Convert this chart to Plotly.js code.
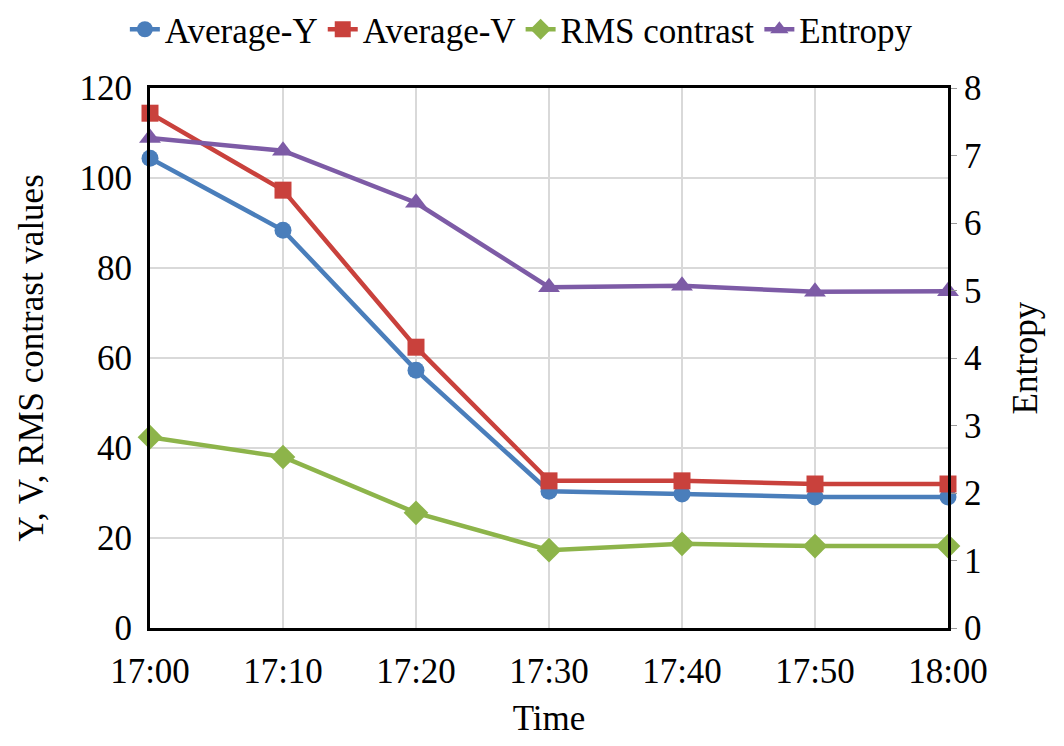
<!DOCTYPE html>
<html><head><meta charset="utf-8">
<script src="https://cdn.plot.ly/plotly-3.0.1.min.js"></script>
<style>html,body{margin:0;padding:0;background:#fff}</style>
</head><body>
<div id="chart" style="width:1064px;height:746px"></div>
<script>
const times = ["17:00","17:10","17:20","17:30","17:40","17:50","18:00"];
const averageY = [104.4, 88.4, 57.3, 30.4, 29.8, 29.1, 29.1];
const averageV = [114.4, 97.3, 62.4, 32.7, 32.7, 32.0, 32.0];
const rmsContrast = [42.4, 38.0, 25.6, 17.3, 18.7, 18.2, 18.2];
const entropy = [7.26, 7.07, 6.30, 5.05, 5.07, 4.98, 4.99];

const font = "Liberation Serif, Times New Roman, serif";
const fs = 35;
function tr(name, y, color, symbol, axis, size) {
  return {x: times, y: y, name: name, type: "scatter", mode: "lines+markers", yaxis: axis,
    line: {color: color, width: 4.5}, marker: {color: color, symbol: symbol, size: size}, cliponaxis: false};
}
const data = [
  tr("Average-Y", averageY, "#4a7ebb", "circle", "y", 17),
  tr("Average-V", averageV, "#c9413c", "square", "y", 17),
  tr("RMS contrast", rmsContrast, "#8db44a", "diamond", "y", 19),
  tr("Entropy", entropy, "#7d5ba6", "triangle-up", "y2", 19)
];
const layout = {
  width: 1064, height: 746,
  margin: {l: 150, r: 116, t: 88, b: 118},
  paper_bgcolor: "#fff", plot_bgcolor: "#fff",
  font: {family: font, color: "#000", size: fs},
  showlegend: true,
  legend: {orientation: "h", xref: "container", yref: "container", x: 0.49, xanchor: "center", y: 1, yanchor: "top",
    font: {size: 35, family: font}, itemwidth: 30, tracegroupgap: 0, bgcolor: "rgba(0,0,0,0)"},
  xaxis: {type: "category", range: [0, 6], showgrid: true, gridcolor: "#d9d9d9", gridwidth: 1.5,
    showline: true, linecolor: "#000", linewidth: 3, mirror: true, ticks: "", zeroline: false,
    tickfont: {size: fs, family: font}, ticklabelstandoff: 10,
    title: {text: "Time", font: {size: fs, family: font}, standoff: 16}},
  yaxis: {range: [0, 120], dtick: 20, showgrid: true, gridcolor: "#d9d9d9", gridwidth: 1.5,
    showline: true, linecolor: "#000", linewidth: 3, mirror: true, ticks: "", zeroline: false,
    tickfont: {size: fs, family: font}, ticklabelstandoff: 8,
    title: {text: "Y, V, RMS contrast values", font: {size: fs, family: font}, standoff: 26}},
  yaxis2: {range: [0, 8], dtick: 1, overlaying: "y", side: "right", showgrid: false,
    showline: true, linecolor: "#000", linewidth: 3, ticks: "outside", ticklen: 6, tickcolor: "#999", zeroline: false,
    tickfont: {size: fs, family: font},
    title: {text: "Entropy", font: {size: fs, family: font}, standoff: 32}}
};
Plotly.newPlot("chart", data, layout, {displayModeBar: false});
</script>
</body></html>
